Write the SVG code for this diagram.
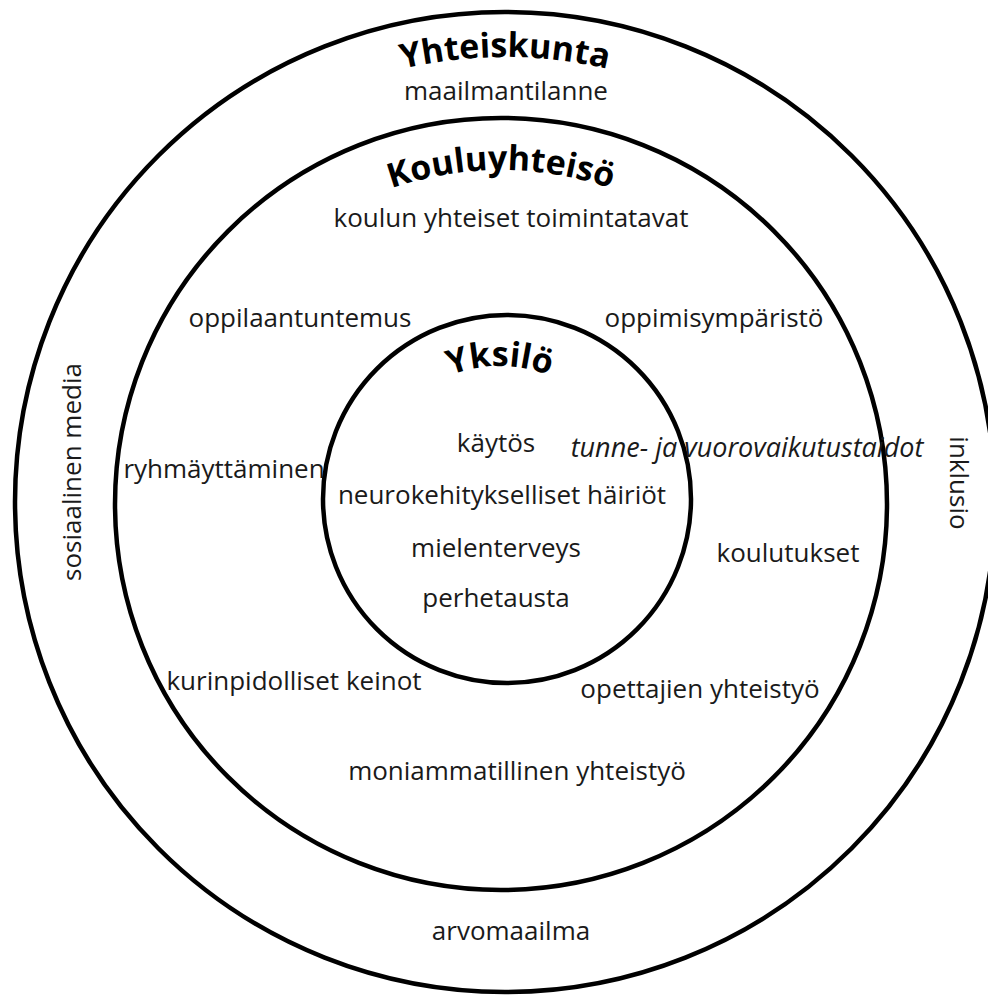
<svg xmlns="http://www.w3.org/2000/svg" width="988" height="996" viewBox="0 0 988 996">
<style>
.ring{fill:none;stroke:#000;stroke-width:4.5}
.t{font-family:"Open Sans","Noto Sans","Liberation Sans",sans-serif;font-size:26px;fill:#1a1a1a;text-anchor:middle}
.i{font-style:italic;font-size:27px}
.h{font-family:"Open Sans","Noto Sans","Liberation Sans",sans-serif;font-size:34px;font-weight:700;fill:#000}
</style>
<defs>
<path id="arcOuter" d="M 60 502 A 445 445 0 0 1 950 502"/>
<path id="arcMid" d="M 167 504 A 334 334 0 0 1 835 504"/>
<path id="arcInner" d="M 367 499 A 133 133 0 0 1 633 499"/>
</defs>
<rect width="988" height="996" fill="#fff"/>
<g id="yhteiskunta">
<circle class="ring" cx="505" cy="502" r="490"/>
<text class="h"><textPath href="#arcOuter" startOffset="50%" text-anchor="middle">Yhteiskunta</textPath></text>
<text class="t" x="506" y="100">maailmantilanne</text>
<text class="t" x="511" y="940">arvomaailma</text>
<text class="t" transform="translate(81 472) rotate(-90)">sosiaalinen media</text>
<text class="t" transform="translate(950 483) rotate(90)">inklusio</text>
</g>
<g id="kouluyhteiso">
<circle class="ring" cx="501" cy="504" r="386"/>
<text class="h"><textPath href="#arcMid" startOffset="50%" text-anchor="middle">Kouluyhteisö</textPath></text>
<text class="t" x="511" y="227">koulun yhteiset toimintatavat</text>
<text class="t" x="300" y="327">oppilaantuntemus</text>
<text class="t" x="714" y="327">oppimisympäristö</text>
<text class="t" x="224" y="478">ryhmäyttäminen</text>
<text class="t" x="788" y="562">koulutukset</text>
<text class="t" x="294" y="690">kurinpidolliset keinot</text>
<text class="t" x="700" y="698">opettajien yhteistyö</text>
<text class="t" x="517" y="780">moniammatillinen yhteistyö</text>
</g>
<g id="yksilo">
<circle class="ring" cx="507" cy="499" r="184"/>
<text class="h"><textPath href="#arcInner" startOffset="50%" text-anchor="middle">Yksilö</textPath></text>
<text class="t" x="496" y="452">käytös</text>
<text class="t i" x="747" y="457">tunne- ja vuorovaikutustaidot</text>
<text class="t" x="502" y="504">neurokehitykselliset häiriöt</text>
<text class="t" x="496" y="557">mielenterveys</text>
<text class="t" x="496" y="607">perhetausta</text>
</g>
<g id="connectors"/>
</svg>
